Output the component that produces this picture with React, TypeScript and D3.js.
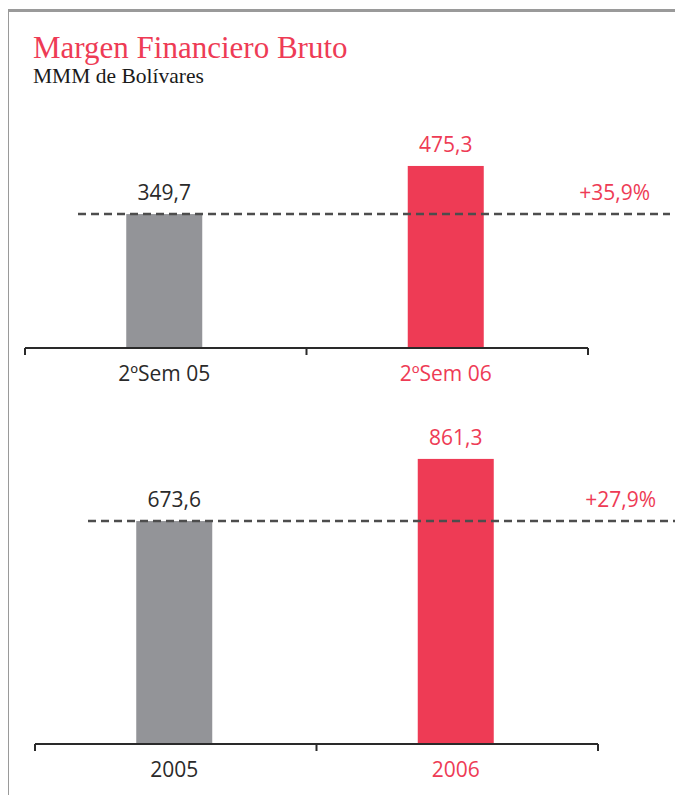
import React, { useEffect, useRef } from 'react';
import * as d3 from 'd3';

const semCategories = ['2ºSem 05', '2ºSem 06'];
const semValues = [349.7, 475.3];
const semGrowth = '+35,9%';

const yearCategories = ['2005', '2006'];
const yearValues = [673.6, 861.3];
const yearGrowth = '+27,9%';

const RED = '#ee3b55';
const GRAY = '#939498';
const INK = '#2a2a2a';
const SANS = '"Open Sans", "DejaVu Sans", sans-serif';
const SERIF = '"Liberation Serif", "DejaVu Serif", serif';

const fmt = (v: number) => v.toFixed(1).replace('.', ',');

const drawPanel = (svg: any, cats: string[], vals: number[], growth: string, o: any) => {
  const g = svg.append('g');

  const x = d3.scaleBand().domain(cats).range([o.x0, o.x1]).padding(0);
  const y = d3.scaleLinear().domain([0, o.yMax]).range([o.base, o.top]);
  const barW = 76;
  const colors = [GRAY, RED];
  const textColors = [INK, RED];
  const mid = (c: string) => x(c)! + x.bandwidth() / 2 - 1.5;

  g.selectAll('rect.bar')
    .data(vals)
    .enter()
    .append('rect')
    .attr('class', 'bar')
    .attr('x', (d, i) => mid(cats[i]) - barW / 2)
    .attr('y', d => y(d))
    .attr('width', barW)
    .attr('height', d => o.base - y(d))
    .attr('fill', (d, i) => colors[i]);

  // dashed reference line at first value
  g.append('line')
    .attr('x1', o.dashX0)
    .attr('x2', o.dashX1)
    .attr('y1', y(vals[0]))
    .attr('y2', y(vals[0]))
    .attr('stroke', '#4d4d4d')
    .attr('stroke-width', 2.5)
    .attr('stroke-dasharray', '8,5');

  g.selectAll('text.val')
    .data(vals)
    .enter()
    .append('text')
    .attr('class', 'val')
    .attr('x', (d, i) => mid(cats[i]))
    .attr('y', d => y(d) - 14)
    .attr('text-anchor', 'middle')
    .attr('font-family', SANS)
    .attr('font-size', 21)
    .attr('fill', (d, i) => textColors[i])
    .text(d => fmt(d));

  g.append('text')
    .attr('x', o.growthX)
    .attr('y', y(vals[0]) - 14)
    .attr('text-anchor', 'end')
    .attr('font-family', SANS)
    .attr('font-size', 21)
    .attr('fill', RED)
    .text(growth);

  // axis line with ticks
  const axis = g.append('g').attr('transform', `translate(0,${o.base})`);
  axis.append('line')
    .attr('x1', o.x0).attr('x2', o.x1)
    .attr('stroke', INK).attr('stroke-width', 2);
  const tickXs = [o.x0, ...cats.slice(1).map(c => x(c)!), o.x1];
  axis.selectAll('line.tick')
    .data(tickXs)
    .enter()
    .append('line')
    .attr('class', 'tick')
    .attr('x1', d => d).attr('x2', d => d)
    .attr('y1', 0).attr('y2', 7)
    .attr('stroke', INK).attr('stroke-width', 2);

  axis.selectAll('text.cat')
    .data(cats)
    .enter()
    .append('text')
    .attr('class', 'cat')
    .attr('x', d => mid(d))
    .attr('y', 33)
    .attr('text-anchor', 'middle')
    .attr('font-family', SANS)
    .attr('font-size', 21)
    .attr('fill', (d, i) => textColors[i])
    .text(d => d);
};

const App = () => {
  const svgRef = useRef<SVGSVGElement>(null);

  useEffect(() => {
    const svg = d3.select(svgRef.current);
    svg.selectAll('*').remove();

    svg.append('rect').attr('width', 683).attr('height', 803).attr('fill', '#fff');

    // frame (top + left)
    svg.append('path')
      .attr('d', 'M7.5,803 V10.5 H683')
      .attr('fill', 'none')
      .attr('stroke', '#9a9a9a')
      .attr('stroke-width', 3);

    svg.append('text')
      .attr('x', 33).attr('y', 58)
      .attr('font-family', SERIF)
      .attr('font-size', 31)
      .attr('fill', RED)
      .text('Margen Financiero Bruto');

    svg.append('text')
      .attr('x', 33).attr('y', 83)
      .attr('font-family', SERIF)
      .attr('font-size', 21.5)
      .attr('fill', '#1a1a1a')
      .text('MMM de Bolívares');

    drawPanel(svg, semCategories, semValues, semGrowth, {
      x0: 25, x1: 588, base: 348, top: 156.5, yMax: 500,
      dashX0: 78, dashX1: 670, growthX: 650,
    });

    drawPanel(svg, yearCategories, yearValues, yearGrowth, {
      x0: 35, x1: 598, base: 744, top: 413, yMax: 1000,
      dashX0: 88, dashX1: 683, growthX: 656,
    });
  }, []);

  return (
    <div style={{ margin: -8 }}>
      <svg ref={svgRef} width={683} height={803} style={{ display: 'block' }} />
    </div>
  );
};

export default App;
